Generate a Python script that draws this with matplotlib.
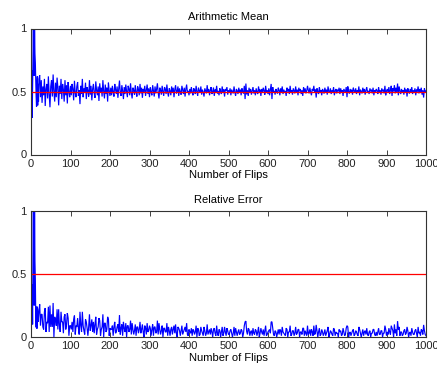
import numpy as np
import matplotlib
matplotlib.use("Agg")
import matplotlib.pyplot as plt

plt.rcParams['font.family'] = ['Liberation Sans', 'DejaVu Sans']

# Arithmetic mean of the flips (per-mille).
# First block: one value per flip count 1..20
mean_first = [400, 667, 290, 550, 820, 1000, 714, 625, 1000, 800,
              727, 583, 462, 380, 533, 620, 390, 560, 420, 600]
# Then one value every 2 flips, 22..1000
mean_rest = [
    # 22-100
    630, 455, 590, 410, 540, 470, 600, 385, 520, 560,
    445, 620, 480, 375, 540, 590, 460, 635, 500, 420,
    570, 455, 610, 530, 390, 545, 480, 600, 440, 560,
    515, 420, 590, 470, 550, 405, 575, 495, 455, 545,
    # 102-200
    470, 560, 520, 430, 585, 490, 455, 540, 575, 465,
    510, 400, 545, 480, 600, 455, 525, 490, 570, 440,
    535, 505, 460, 590, 475, 545, 430, 520, 560, 485,
    450, 580, 510, 470, 540, 425, 565, 495, 530, 460,
    590, 500, 445, 555, 480, 530, 420, 570, 505, 465,
    # 202-400
    530, 470, 545, 495, 460, 560, 515, 480, 540, 450,
    520, 587, 490, 465, 550, 505, 440, 535, 480, 555,
    500, 455, 545, 520, 470, 565, 490, 445, 530, 510,
    475, 550, 495, 460, 540, 515, 470, 560, 485, 530,
    450, 520, 500, 545, 465, 510, 555, 480, 525, 455,
    535, 495, 470, 550, 505, 460, 540, 485, 520, 565,
    490, 445, 530, 510, 475, 545, 500, 465, 535, 520,
    480, 555, 495, 460, 525, 505, 470, 540, 490, 530,
    455, 515, 550, 485, 500, 540, 465, 525, 495, 475,
    545, 510, 480, 530, 460, 520, 555, 490, 505, 470,
    # 402-700
    520, 485, 535, 495, 470, 525, 510, 480, 545, 500,
    465, 530, 505, 490, 540, 475, 515, 495, 460, 525,
    505, 485, 550, 490, 520, 470, 510, 535, 480, 500,
    530, 465, 515, 495, 545, 485, 505, 470, 525, 500,
    480, 540, 495, 515, 460, 520, 505, 535, 475, 510,
    490, 525, 470, 515, 500, 485, 540, 495, 465, 520,
    505, 480, 530, 490, 515, 470, 525, 500, 485, 545,
    440, 563, 478, 510, 465, 530, 495, 520, 475, 505,
    535, 485, 510, 470, 525, 495, 480, 540, 500, 515,
    465, 520, 490, 530, 505, 475, 545, 495, 510, 480,
    525, 470, 515, 560, 440, 535, 490, 505, 475, 520,
    500, 485, 530, 510, 470, 525, 495, 540, 480, 515,
    490, 505, 465, 530, 500, 520, 480, 545, 495, 510,
    475, 525, 505, 485, 540, 490, 515, 470, 530, 500,
    520, 480, 510, 465, 535, 495, 525, 485, 505, 545,
    # 702-1000
    510, 485, 530, 495, 470, 520, 505, 545, 490, 515,
    452, 525, 500, 480, 535, 495, 510, 470, 520, 505,
    485, 530, 495, 515, 475, 540, 500, 490, 525, 480,
    510, 495, 535, 470, 505, 520, 485, 515, 500, 530,
    480, 525, 495, 510, 465, 520, 505, 490, 535, 455,
    540, 500, 485, 520, 495, 515, 475, 530, 505, 490,
    525, 480, 510, 495, 540, 470, 515, 500, 485, 530,
    495, 520, 475, 510, 535, 490, 505, 480, 525, 500,
    515, 485, 530, 470, 510, 495, 520, 505, 480, 535,
    490, 510, 475, 525, 500, 515, 485, 545, 470, 505,
    520, 490, 535, 480, 510, 545, 465, 525, 500, 550,
    485, 530, 495, 563, 470, 540, 505, 480, 520, 495,
    510, 475, 530, 490, 515, 460, 525, 500, 485, 520,
    495, 535, 480, 510, 490, 525, 470, 515, 500, 540,
    485, 520, 495, 530, 475, 510, 452, 525, 490, 505,
]
true_mean = 0.5
x_ticks = [0, 100, 200, 300, 400, 500, 600, 700, 800, 900, 1000]
y_ticks = [0, 0.5, 1]
y_ticklabels = ['0', '0.5', '1']

flips = np.concatenate([np.arange(1, len(mean_first) + 1),
                        22 + 2 * np.arange(len(mean_rest))])
mean_vals = np.array(mean_first + mean_rest) / 1000.0
rel_err = np.abs(mean_vals - true_mean) / true_mean

fig = plt.figure(figsize=(4.37, 3.68), dpi=100)
ax1 = fig.add_axes([31 / 437, 1 - 154.5 / 368, 395 / 437, 126 / 368])
ax2 = fig.add_axes([31 / 437, 1 - 337 / 368, 395 / 437, 126 / 368])

for ax, y, title in [(ax1, mean_vals, 'Arithmetic Mean'),
                     (ax2, rel_err, 'Relative Error')]:
    ax.plot(flips, y, color='#0000ff', lw=0.85, solid_joinstyle='miter')
    ax.axhline(true_mean, color='#ff0000', lw=0.9)
    ax.set_xlim(0, 1000)
    ax.set_ylim(0, 1)
    ax.set_xticks(x_ticks)
    ax.set_yticks(y_ticks)
    ax.set_yticklabels(y_ticklabels)
    ax.tick_params(direction='in', length=3.5, width=0.6, labelsize=8,
                   top=True, right=True, colors='#222222', pad=3)
    for s in ax.spines.values():
        s.set_linewidth(0.8)
        s.set_color('#333333')
    ax.set_title(title, fontsize=8, pad=6)
    ax.set_xlabel('Number of Flips', fontsize=8, labelpad=1)

fig.savefig('out.png', dpi=100)
